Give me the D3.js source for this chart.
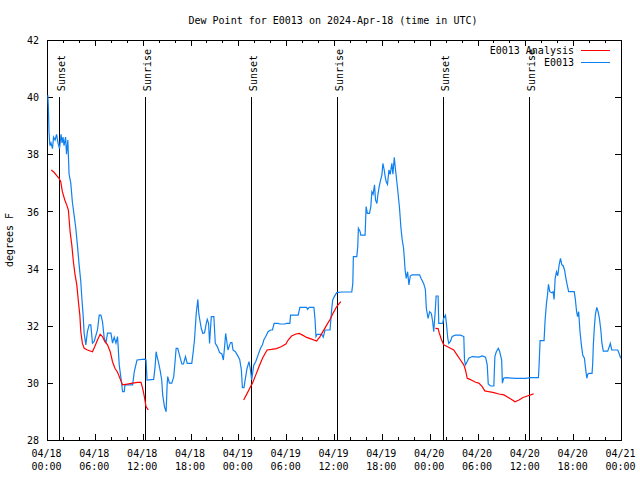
<!DOCTYPE html>
<html>
<head>
<meta charset="utf-8">
<script src="https://cdn.jsdelivr.net/npm/d3@7"></script>
<style>
  html, body { margin: 0; padding: 0; background: #fff; }
  svg { display: block; }
  text { font-family: "DejaVu Sans Mono", monospace; font-size: 10px; fill: #000; }
</style>
</head>
<body>
<svg id="chart" width="640" height="480"></svg>
<script>
// ---------------- DATA ----------------
const title = "Dew Point for E0013 on 2024-Apr-18 (time in UTC)";
const yLabel = "degrees F";
const startDate = Date.UTC(2024, 3, 18, 0, 0);
const seriesNames = ["E0013 Analysis", "E0013"];

// hours since 04/18 00:00 UTC
const blueHours = [0.1,0.17,0.25,0.34,0.38,0.5,0.69,0.82,1.01,1.2,1.38,1.57,1.76,1.89,2.01,2.14,2.33,2.45,2.61,2.77,2.98,3.18,3.4,3.61,3.81,4.03,4.24,4.37,4.53,4.66,4.87,5.07,5.29,5.5,5.7,5.92,6.33,6.55,6.76,6.96,7.18,7.39,7.59,8.02,8.22,8.43,8.65,8.85,9.06,9.28,9.48,9.69,9.78,10.74,10.95,11.29,12.21,12.42,12.55,13.38,13.56,13.69,13.81,13.97,14.22,14.39,14.51,14.73,14.94,15.07,15.14,15.36,15.65,15.9,16.08,16.2,16.4,16.62,16.91,17.12,17.37,17.59,18.16,18.34,18.5,18.72,18.84,18.92,19.04,19.17,19.35,19.55,19.76,19.98,20.1,20.27,20.39,20.61,20.93,21.11,21.36,21.65,21.94,22.12,22.28,22.41,22.53,22.7,22.91,23.04,23.2,23.33,23.63,23.88,24.17,24.38,24.51,24.71,24.92,25.09,25.34,25.52,25.68,25.93,26.18,26.47,26.78,27.03,27.19,27.44,27.73,28.03,28.28,28.49,28.99,29.2,29.83,30.05,30.46,30.55,31.51,31.72,32.57,32.69,32.89,33.48,33.61,33.74,33.9,34.45,34.65,34.87,35.5,35.71,35.84,36.04,36.34,36.97,38.23,38.36,38.43,38.86,38.98,39.06,39.27,39.36,39.9,40.03,40.19,40.45,40.62,40.75,40.91,41.08,41.21,41.38,41.51,41.67,41.8,42.01,42.13,42.3,42.42,42.55,42.71,42.89,43.05,43.26,43.39,43.56,43.72,43.97,44.22,44.4,44.56,44.73,44.94,45.07,45.23,45.4,45.57,45.78,46.74,46.91,47.24,47.46,47.58,47.8,48,48.21,48.38,48.51,48.72,48.81,49.06,49.14,49.64,49.76,49.98,50.1,50.27,50.39,50.6,50.82,51.23,51.86,52.28,52.37,52.49,52.71,52.91,53.34,54.17,54.59,55.01,55.22,55.35,55.64,56.05,56.18,56.36,56.61,56.78,57.03,57.12,57.28,57.53,58.79,60.04,60.67,61.64,61.72,61.85,62.35,62.48,62.65,62.78,62.9,63.07,63.32,63.48,63.61,63.74,63.91,64.07,64.24,64.41,64.58,64.74,64.92,65.09,65.25,65.43,66.13,66.26,66.43,66.56,66.69,66.86,67.03,67.2,67.41,67.53,67.71,67.83,67.96,68.37,68.45,68.53,68.65,68.78,68.96,69.12,69.29,69.47,69.61,69.78,70.33,70.54,70.66,70.84,71.59,71.79,71.97];
const blueValues = [40.07,39.67,38.79,38.38,38.3,38.4,38.2,38.6,38.5,38.7,38.4,38.2,38.7,38.4,38.6,38.3,38.6,38.0,38.5,37.3,37.0,36.34,35.87,35.42,34.83,34.13,33.54,32.97,32.37,31.74,31.33,31.79,32.03,32.03,31.39,31.45,31.85,32.37,32.37,32.14,31.56,31.39,31.74,31.74,31.39,31.6,31.39,31.62,30.63,30.16,29.69,29.69,29.93,29.93,30.39,30.8,30.83,30.8,30.1,30.12,30.57,31.09,30.92,30.74,30.39,30.1,29.58,29.17,28.99,29.93,30.22,29.99,29.99,30.22,30.8,31.21,31.21,30.97,30.66,30.66,30.92,30.68,30.68,31.09,31.5,32.43,32.72,32.92,32.43,32.2,31.91,31.73,31.75,32.08,32.22,32.08,31.38,32.32,32.32,31.38,31.27,31.06,31.01,30.8,31.27,31.73,31.5,31.15,31.33,31.41,31.41,31.15,31.09,30.97,30.82,30.45,29.83,29.83,30.22,30.51,30.74,30.45,30.1,30.62,30.74,30.97,31.21,31.33,31.5,31.62,31.79,31.85,31.85,32.08,32.08,32.06,32.06,32.08,32.08,32.37,32.37,32.64,32.64,32.57,32.64,32.64,32.26,31.62,31.7,31.7,31.6,31.85,31.85,32.57,32.9,33.02,33.16,33.18,33.18,33.48,34.42,34.42,34.77,35.41,35.3,35.17,35.17,36.17,35.93,35.93,36.17,36.69,36.6,36.93,36.4,36.28,36.6,36.87,37.04,37.28,37.68,37.45,37.22,37.04,36.95,37.45,37.3,37.68,37.3,37.89,37.45,36.81,36.11,35.41,35.0,34.71,33.89,33.66,33.89,33.43,33.74,33.78,33.78,33.66,33.48,33.27,32.61,32.26,32.49,32.43,32.14,31.79,32.61,33.04,33.04,32.08,32.08,32.26,32.37,32.08,31.56,31.38,31.45,31.62,31.67,31.67,31.62,30.8,30.63,30.75,30.86,30.92,30.9,30.94,30.9,30.63,29.96,29.89,29.89,30.92,31.09,31.21,31.1,30.8,29.99,30.16,30.18,30.16,30.16,30.18,30.18,30.57,31.48,31.48,32.2,32.78,33.07,33.45,33.19,33.15,33.19,32.92,33.66,33.89,33.75,34.13,34.36,34.13,34.1,33.95,33.66,33.43,33.19,33.19,32.96,32.49,32.32,32.49,31.79,31.33,30.97,30.86,30.57,30.16,30.3,30.33,30.33,30.68,31.33,31.91,32.37,32.64,32.5,32.26,31.85,31.38,31.11,31.11,31.27,31.38,31.15,31.15,31.01,30.86];

// analysis series (null = gap)
const redHours = [0.54,0.88,1.22,1.51,1.72,1.93,2.23,2.48,2.68,2.9,3.11,3.31,3.52,3.74,3.94,4.12,4.24,4.44,4.66,5.07,5.7,6.0,6.33,6.67,6.96,7.26,7.59,7.93,8.22,8.52,8.85,9.19,9.48,9.91,10.74,11.37,11.79,12.0,12.21,12.42,12.71,
  18.0,
  24.67,25.01,25.43,25.77,26.18,26.6,27.03,27.32,27.61,28.16,28.79,29.42,29.96,30.25,30.68,31.22,31.63,32.06,32.57,33.19,33.82,34.24,34.66,35.08,35.5,35.91,36.34,36.85,
  42.0,
  48.72,49.06,49.22,49.47,49.76,50.19,50.6,51.02,51.45,51.86,52.28,52.49,52.71,52.91,53.34,53.76,54.17,54.59,54.92,55.42,56.05,56.68,57.31,57.87,58.28,58.7,59.2,59.71,60.26,60.67,61.05];
const redValues = [37.45,37.37,37.25,37.16,37.04,36.69,36.4,36.22,36.05,35.29,34.83,34.24,33.78,33.43,32.84,32.37,31.79,31.38,31.21,31.15,31.09,31.27,31.5,31.7,31.62,31.44,31.33,31.09,30.74,30.51,30.37,30.13,29.93,29.95,29.99,30.02,30.02,29.81,29.52,29.17,29.05,
  null,
  29.4,29.58,29.81,29.99,30.27,30.57,30.86,31.01,31.15,31.17,31.2,31.27,31.36,31.5,31.64,31.71,31.73,31.67,31.59,31.53,31.46,31.62,31.82,32.02,32.22,32.45,32.67,32.84,
  null,
  31.91,31.9,31.73,31.52,31.33,31.27,31.21,31.15,30.97,30.8,30.63,30.45,30.16,30.14,30.08,30.02,29.99,29.87,29.72,29.69,29.66,29.61,29.58,29.49,29.42,29.34,29.4,29.49,29.54,29.58,29.62];

const sunHours = [1.54, 12.33, 25.65, 36.34, 49.71, 60.40];
const sunLabels = ["Sunset", "Sunrise", "Sunset", "Sunrise", "Sunset", "Sunrise"];
const sunLineTop = 40; // degrees F

const yTicks = [28, 30, 32, 34, 36, 38, 40, 42];
const xMajorHours = [0, 6, 12, 18, 24, 30, 36, 42, 48, 54, 60, 66, 72];
const xMinorHours = [2, 4, 8, 10, 14, 16, 20, 22, 26, 28, 32, 34, 38, 40, 44, 46, 50, 52, 56, 58, 62, 64, 68, 70];

const colors = { analysis: "#ff0000", obs: "#0f80f0" };

// ---------------- CHART ----------------
const toDate = h => new Date(startDate + h * 3600e3);
const L = 47, R = 621, T = 40, B = 440;
const svg = d3.select("#chart");

const x = d3.scaleUtc().domain([toDate(0), toDate(72)]).range([L, R]);
const y = d3.scaleLinear().domain([28, 42]).range([B, T]);

// title
svg.append("text").attr("x", 333).attr("y", 24).attr("text-anchor", "middle").text(title);

// y label
svg.append("text").attr("transform", "translate(13,240) rotate(-90)")
  .attr("text-anchor", "middle").text(yLabel);

function styleAxis(g) {
  g.select(".domain").remove();
  g.selectAll("line").attr("stroke", "#000").attr("shape-rendering", "crispEdges");
  g.selectAll("text").attr("font-family", null).attr("font-size", null);
  g.attr("font-family", null).attr("font-size", null);
}

// x ticks (inward) bottom & top
svg.append("g").attr("transform", `translate(0,${B})`)
  .call(d3.axisTop(x).tickValues(xMajorHours.map(toDate)).tickSize(6).tickFormat(""))
  .call(styleAxis);
svg.append("g").attr("transform", `translate(0,${B})`)
  .call(d3.axisTop(x).tickValues(xMinorHours.map(toDate)).tickSize(3).tickFormat(""))
  .call(styleAxis);
svg.append("g").attr("transform", `translate(0,${T})`)
  .call(d3.axisBottom(x).tickValues(xMajorHours.map(toDate)).tickSize(6).tickFormat(""))
  .call(styleAxis);
svg.append("g").attr("transform", `translate(0,${T})`)
  .call(d3.axisBottom(x).tickValues(xMinorHours.map(toDate)).tickSize(3).tickFormat(""))
  .call(styleAxis);

// x labels (two lines)
const fmtDay = d3.utcFormat("%m/%d"), fmtTime = d3.utcFormat("%H:%M");
const xl = svg.append("g").attr("transform", `translate(0,${B})`)
  .call(d3.axisBottom(x).tickValues(xMajorHours.map(toDate)).tickSize(0).tickFormat(fmtDay))
  .call(styleAxis);
xl.selectAll(".tick text").each(function(d) {
  const t = d3.select(this);
  t.text(null).attr("y", null).attr("dy", null);
  t.append("tspan").attr("x", -1).attr("y", 17).text(fmtDay(d));
  t.append("tspan").attr("x", -1).attr("y", 30).text(fmtTime(d));
});

// y ticks (inward) left & right, labels left
svg.append("g").attr("transform", `translate(${L},0)`)
  .call(d3.axisRight(y).tickValues(yTicks).tickSize(6).tickFormat(""))
  .call(styleAxis);
svg.append("g").attr("transform", `translate(${R},0)`)
  .call(d3.axisLeft(y).tickValues(yTicks).tickSize(6).tickFormat(""))
  .call(styleAxis);
const yl = svg.append("g").attr("transform", `translate(${L},0)`)
  .call(d3.axisLeft(y).tickValues(yTicks).tickSize(0).tickPadding(8).tickFormat(d3.format("d")))
  .call(styleAxis);
yl.selectAll(".tick text").attr("dy", "0.36em");

// frame
svg.append("rect").attr("x", L).attr("y", T).attr("width", R - L).attr("height", B - T)
  .attr("fill", "none").attr("stroke", "#000").attr("shape-rendering", "crispEdges");

// sunrise / sunset lines
const sunG = svg.append("g");
sunHours.forEach((h, i) => {
  const sx = Math.round(x(toDate(h))) + 0.5;
  sunG.append("line").attr("x1", sx).attr("x2", sx).attr("y1", y(28)).attr("y2", y(sunLineTop))
    .attr("stroke", "#000").attr("stroke-width", 1).attr("shape-rendering", "crispEdges");
  sunG.append("text").attr("transform", `translate(${sx + 5},${y(sunLineTop) - 6}) rotate(-90)`)
    .attr("text-anchor", "start").text(sunLabels[i]);
});

// series
const redData = redHours.map((h, i) => ({ t: toDate(h), v: redValues[i] }));
const blueData = blueHours.map((h, i) => ({ t: toDate(h), v: blueValues[i] }));
const line = d3.line().defined(d => d.v != null).x(d => x(d.t)).y(d => y(d.v));

svg.append("path").datum(blueData).attr("d", line)
  .attr("fill", "none").attr("stroke", colors.obs).attr("stroke-width", 1.2);
svg.append("path").datum(redData).attr("d", line)
  .attr("fill", "none").attr("stroke", colors.analysis).attr("stroke-width", 1.2);

// legend
const legend = svg.append("g");
[[seriesNames[0], colors.analysis, 54, 50], [seriesNames[1], colors.obs, 66, 62]].forEach(([name, c, ty, ly]) => {
  legend.append("text").attr("x", 574).attr("y", ty).attr("text-anchor", "end").text(name);
  legend.append("line").attr("x1", 581).attr("x2", 610).attr("y1", ly + 0.5).attr("y2", ly + 0.5)
    .attr("stroke", c).attr("stroke-width", 1).attr("shape-rendering", "crispEdges");
});
</script>
</body>
</html>
